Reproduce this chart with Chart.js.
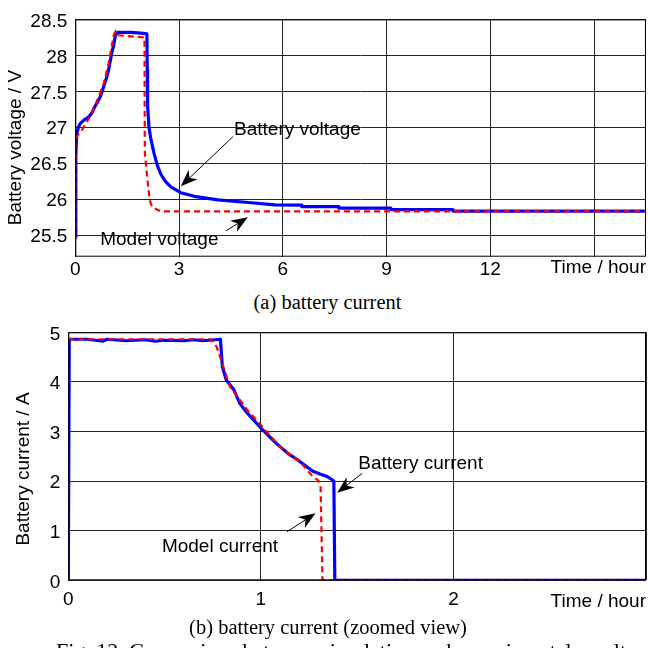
<!DOCTYPE html>
<html>
<head>
<meta charset="utf-8">
<script src="https://cdn.jsdelivr.net/npm/chart.js@4/dist/chart.umd.min.js"></script>
<style>
  body { margin: 0; background: #fff; }
  #page { position: relative; width: 648px; height: 648px; overflow: hidden; background: #fff; }
  canvas { position: absolute; left: 0; }
  .cap { position: absolute; left: 0; width: 648px; text-align: center; white-space: nowrap;
         font-family: "Liberation Serif", "Times New Roman", serif; font-size: 20.5px; line-height: 20.5px; color: #000; }
</style>
</head>
<body>
<div id="page">
  <canvas id="volt" width="648" height="290" style="top:0;width:648px;height:290px"></canvas>
  <div class="cap" style="top:292px;padding-left:7px;width:641px">(a) battery current</div>
  <canvas id="curr" width="648" height="320" style="top:300px;width:648px;height:320px"></canvas>
  <div class="cap" style="top:617px;padding-left:8px;width:640px">(b) battery current (zoomed view)</div>
  <div class="cap" style="top:641px;left:56px;text-align:left;width:auto;font-size:22px">Fig. 12. Comparison between simulation and experimental results</div>
</div>
<script>
// (a) battery voltage, hours / volts
const battTimeV = [0, 0.01, 0.02, 0.04, 0.09, 0.14, 0.25, 0.38, 0.48, 0.57, 0.72, 0.77, 0.91, 0.96, 1.06, 1.11, 1.16, 1.22, 1.6, 1.9, 2.07, 2.08, 2.09, 2.13, 2.18, 2.27, 2.37, 2.47, 2.6, 2.76, 3.05, 3.44, 4.12, 5.09, 5.77, 6.54, 6.55, 7.61, 7.62, 9.12, 9.13, 10.9, 10.92, 16.5];
const battVolt = [25.47, 26.0, 26.6, 26.9, 27.0, 27.05, 27.1, 27.14, 27.2, 27.29, 27.42, 27.49, 27.70, 27.79, 28.05, 28.14, 28.28, 28.32, 28.32, 28.31, 28.30, 27.8, 27.3, 27.0, 26.85, 26.65, 26.47, 26.35, 26.25, 26.17, 26.09, 26.04, 25.99, 25.95, 25.92, 25.916, 25.895, 25.895, 25.876, 25.876, 25.855, 25.855, 25.835, 25.835];
const modelTimeV = [0, 0.005, 0.01, 0.06, 0.19, 0.38, 0.62, 0.82, 0.96, 1.11, 1.16, 1.22, 1.98, 2.0, 2.01, 2.08, 2.15, 2.22, 2.47, 16.5];
const modelVolt = [25.45, 26.3, 26.83, 26.88, 26.96, 27.11, 27.36, 27.60, 27.88, 28.28, 28.33, 28.28, 28.25, 28.25, 26.65, 26.30, 25.99, 25.89, 25.83, 25.83];
const voltXTicks = [0, 3, 6, 9, 12, 15];
const voltYTicks = [25.5, 26, 26.5, 27, 27.5, 28, 28.5];

// (b) battery current, zoomed, hours / amps
const battTimeI = [0, 0.005, 0.1, 0.18, 0.2, 0.3, 0.4, 0.45, 0.5, 0.6, 0.65, 0.7, 0.79, 0.80, 0.82, 0.86, 0.89, 0.93, 1.0, 1.08, 1.14, 1.19, 1.27, 1.31, 1.34, 1.37, 1.379, 1.384, 3.0];
const battCurr = [0, 4.86, 4.86, 4.82, 4.86, 4.83, 4.85, 4.82, 4.84, 4.83, 4.85, 4.83, 4.86, 4.31, 4.04, 3.84, 3.57, 3.37, 3.07, 2.76, 2.56, 2.43, 2.20, 2.14, 2.10, 2.03, 2.0, 0, 0];
const modelTimeI = [0, 0.74, 0.77, 0.80, 0.84, 0.86, 0.93, 1.0, 1.10, 1.21, 1.27, 1.30, 1.31, 1.32, 3.0];
const modelCurr = [4.86, 4.86, 4.71, 4.37, 3.90, 3.80, 3.43, 3.13, 2.69, 2.36, 2.09, 2.01, 1.9, 0, 0];
const currXTicks = [0, 1, 2, 3];
const currYTicks = [0, 1, 2, 3, 4, 5];

const FONT = '"Liberation Sans", Arial, sans-serif';

function pts(xs, ys) {
  return xs.map((x, i) => ({ x: x, y: ys[i] }));
}

function drawArrow(ctx, x0, y0, x1, y1) {
  const ang = Math.atan2(y1 - y0, x1 - x0);
  const L = 17, W = 6.5, N = 5;
  const c = Math.cos(ang), s = Math.sin(ang);
  ctx.beginPath();
  ctx.moveTo(x0, y0);
  ctx.lineTo(x1 - c * (L - N), y1 - s * (L - N));
  ctx.lineWidth = 1;
  ctx.stroke();
  ctx.beginPath();
  ctx.moveTo(x1, y1);
  ctx.lineTo(x1 - c * L - s * W, y1 - s * L + c * W);
  ctx.lineTo(x1 - c * (L - N), y1 - s * (L - N));
  ctx.lineTo(x1 - c * L + s * W, y1 - s * L - c * W);
  ctx.closePath();
  ctx.fill();
}

// box, axis titles and the text/arrow annotations
const extras = {
  id: 'extras',
  afterDraw(chart, args, o) {
    const { ctx, chartArea: a } = chart;
    const sx = chart.scales.x, sy = chart.scales.y;
    ctx.save();
    ctx.strokeStyle = '#000';
    ctx.lineWidth = 1;
    ctx.strokeRect(a.left + 0.5, a.top + 0.5, a.right - a.left - 1, a.bottom - a.top - 1);
    ctx.fillStyle = '#000';
    ctx.font = '19px ' + FONT;
    ctx.textBaseline = 'middle';
    ctx.textAlign = 'right';
    ctx.fillText(o.xTitle, a.right, a.bottom + o.xTitleDy);
    ctx.save();
    ctx.translate(o.yTitleX, (a.top + a.bottom) / 2 + o.yTitleDy);
    ctx.rotate(-Math.PI / 2);
    ctx.textAlign = 'center';
    ctx.fillText(o.yTitle, 0, 0);
    ctx.restore();
    ctx.textAlign = 'left';
    o.notes.forEach(n => {
      ctx.fillText(n.text, sx.getPixelForValue(n.at[0]), sy.getPixelForValue(n.at[1]));
      drawArrow(ctx,
        sx.getPixelForValue(n.from[0]), sy.getPixelForValue(n.from[1]),
        sx.getPixelForValue(n.to[0]), sy.getPixelForValue(n.to[1]));
    });
    ctx.restore();
  }
};

function makeChart(id, cfg) {
  return new Chart(document.getElementById(id), {
    type: 'line',
    data: {
      datasets: [
        { label: 'Model', data: cfg.model, borderColor: '#ff0000', borderWidth: 2.2, borderDash: [6, 4],
          pointRadius: 0, tension: 0, fill: false, order: 0 },
        { label: 'Battery', data: cfg.batt, borderColor: '#0000ff', borderWidth: 3.2, borderJoinStyle: 'round',
          pointRadius: 0, tension: 0, fill: false, order: 1 }
      ]
    },
    options: {
      responsive: false,
      animation: false,
      events: [],
      layout: { padding: { top: cfg.top, right: 2, left: 0, bottom: 0 } },
      plugins: { legend: { display: false }, tooltip: { enabled: false }, extras: cfg.extras },
      scales: {
        x: {
          type: 'linear', min: cfg.xMin, max: cfg.xMax,
          afterBuildTicks: s => { s.ticks = cfg.xTicks.map(v => ({ value: v })); },
          afterFit: s => { s.height = cfg.xHeight; s.paddingLeft = 0; s.paddingRight = 0; },
          grid: { color: '#262626', lineWidth: 1, drawTicks: false },
          border: { display: false },
          ticks: { font: { family: FONT, size: 19 }, color: '#000', padding: cfg.xPad, maxRotation: 0,
                   callback: v => (v === cfg.xTicks[cfg.xTicks.length - 1] ? '' : String(v)) }
        },
        y: {
          type: 'linear', min: cfg.yMin, max: cfg.yMax,
          afterBuildTicks: s => { s.ticks = cfg.yTicks.map(v => ({ value: v })); },
          afterFit: s => { s.width = cfg.yWidth; },
          grid: { color: '#262626', lineWidth: 1, drawTicks: false },
          border: { display: false },
          ticks: { font: { family: FONT, size: 19 }, color: '#000', padding: 8, labelOffset: 2,
                   callback: v => String(v) }
        }
      }
    },
    plugins: [extras]
  });
}

makeChart('volt', {
  batt: pts(battTimeV, battVolt), model: pts(modelTimeV, modelVolt),
  xMin: 0, xMax: 16.5, yMin: 25.2, yMax: 28.5,
  xTicks: voltXTicks, yTicks: voltYTicks,
  top: 6.3, xHeight: 33.3, yWidth: 75.3, xPad: 2,
  extras: {
    xTitle: 'Time / hour', xTitleDy: 11, yTitle: 'Battery voltage / V', yTitleX: 16, yTitleDy: 9.5,
    notes: [
      { text: 'Battery voltage', at: [4.59, 26.96], from: [4.56, 26.87], to: [3.05, 26.18] },
      { text: 'Model voltage', at: [0.72, 25.43], from: [4.36, 25.56], to: [4.99, 25.75] }
    ]
  }
});

makeChart('curr', {
  batt: pts(battTimeI, battCurr), model: pts(modelTimeI, modelCurr),
  xMin: 0, xMax: 3, yMin: 0, yMax: 5,
  xTicks: currXTicks, yTicks: currYTicks,
  top: 32.3, xHeight: 39.7, yWidth: 68.3, xPad: 8,
  extras: {
    xTitle: 'Time / hour', xTitleDy: 21.7, yTitle: 'Battery current / A', yTitleX: 24, yTitleDy: 12.7,
    notes: [
      { text: 'Battery current', at: [1.506, 2.345], from: [1.527, 2.157], to: [1.396, 1.766] },
      { text: 'Model current', at: [0.486, 0.677], from: [1.136, 0.98], to: [1.284, 1.35] }
    ]
  }
});
</script>
</body>
</html>
